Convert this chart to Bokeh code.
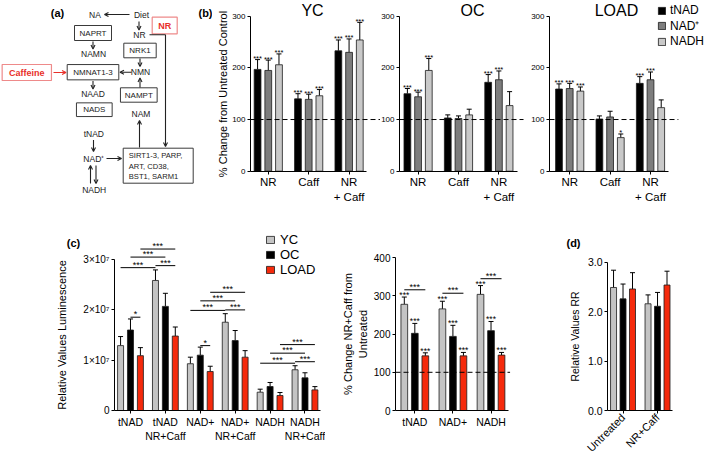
import math
from bokeh.plotting import figure
from bokeh.models import (Range1d, FixedTicker, Label, Legend, LegendItem, Whisker,
                          ColumnDataSource, Arrow, OpenHead, TeeHead)
from bokeh.layouts import row, column
from bokeh.core.properties import value
from bokeh.embed import file_html
from bokeh.resources import INLINE

FONT = "Liberation Sans"

# ---------------- data ----------------
# panel (b): % change from untreated control
b_groups = ["NR", "Caff", "NR\n+ Caff"]
b_series = ["tNAD", "NAD⁺", "NADH"]
b_ticks = [0, 100, 200, 300]
control_pct = 100

yc_tnad = [197, 140, 233]
yc_tnad_err = [19, 10, 21]
yc_nad = [195, 139, 230]
yc_nad_err = [20, 10, 26]
yc_nadh = [206, 146, 254]
yc_nadh_err = [21, 12, 34]
yc_stars = [["***", "***", "***"], ["***", "***", "***"], ["***", "***", "***"]]

oc_tnad = [150, 103, 172]
oc_tnad_err = [10, 6, 15]
oc_nad = [144, 102, 177]
oc_nad_err = [9, 5, 17]
oc_nadh = [195, 109, 127]
oc_nadh_err = [23, 11, 27]
oc_stars = [["***", "", "***"], ["***", "", "***"], ["***", "", ""]]

load_tnad = [159, 101, 170]
load_tnad_err = [10, 6, 13]
load_nad = [160, 105, 177]
load_nad_err = [10, 11, 15]
load_nadh = [155, 65, 123]
load_nadh_err = [8, 7, 15]
load_stars = [["***", "", "***"], ["***", "", "***"], ["***", "*", ""]]

# panel (c) left: relative luminescence
c_groups = ["tNAD", "tNAD\nNR+Caff", "NAD+", "NAD+\nNR+Caff", "NADH", "NADH\nNR+Caff"]
c_series = ["YC", "OC", "LOAD"]
c_ticks = [0, 1e7, 2e7, 3e7]
c_tick_labels = ["0", "1×10⁷", "2×10⁷", "3×10⁷"]
c_yc = [1.29e7, 2.585e7, 0.93e7, 1.755e7, 0.364e7, 0.81e7]
c_yc_err = [0.18e7, 0.21e7, 0.13e7, 0.17e7, 0.06e7, 0.08e7]
c_oc = [1.60e7, 2.07e7, 1.10e7, 1.39e7, 0.477e7, 0.65e7]
c_oc_err = [0.22e7, 0.26e7, 0.16e7, 0.20e7, 0.08e7, 0.10e7]
c_load = [1.09e7, 1.48e7, 0.775e7, 1.06e7, 0.298e7, 0.41e7]
c_load_err = [0.16e7, 0.18e7, 0.105e7, 0.13e7, 0.06e7, 0.065e7]
# significance brackets (group, series) -> (group, series) at a height
br_g0 = [0, 0, 1, 0, 0, 2, 2, 3, 2, 2, 4, 5, 4, 4]
br_s0 = [1, 0, 0, 1, 2, 1, 0, 0, 1, 2, 0, 0, 1, 2]
br_g1 = [0, 1, 1, 1, 1, 2, 3, 3, 3, 3, 5, 5, 5, 5]
br_s1 = [2, 0, 2, 1, 2, 2, 0, 2, 1, 2, 0, 2, 1, 2]
br_y = [1.855e7, 2.84e7, 2.88e7, 3.05e7, 3.21e7,
        1.29e7, 1.99e7, 2.0e7, 2.18e7, 2.35e7,
        0.94e7, 0.97e7, 1.14e7, 1.31e7]
br_lab = ["*", "***", "***", "***", "***",
          "*", "***", "***", "***", "***",
          "***", "***", "***", "***"]

# panel (c) right: % change NR+Caff from untreated
cr_groups = ["tNAD", "NAD+", "NADH"]
cr_ticks = [0, 100, 200, 300, 400]
cr_yc = [278, 266, 304]
cr_yc_err = [19, 20, 23]
cr_oc = [202, 194, 209]
cr_oc_err = [26, 29, 24]
cr_load = [143, 143, 145]
cr_load_err = [8, 9, 7]
cr_stars = [["***", "***", "***"], ["***", "***", "***"], ["***", "***", "***"]]
cr_br_y = [316, 307, 345]
cr_br_lab = ["***", "***", "***"]

# panel (d): relative values RR
d_groups = ["Untreated", "NR+Caff"]
d_ticks = [0, 1, 2, 3]
d_tick_labels = ["0.0", "1.0", "2.0", "3.0"]
d_yc = [2.49, 2.16]
d_yc_err = [0.35, 0.18]
d_oc = [2.26, 2.11]
d_oc_err = [0.30, 0.28]
d_load = [2.46, 2.54]
d_load_err = [0.33, 0.28]

b_colors = ["#000000", "#7d7d7d", "#c9c9c9"]
c_colors = ["#c4c4c4", "#000000", "#f52a0c"]
RED = "#e8302a"


# ---------------- helpers ----------------
def xpos(g, s, off):
    return g + 0.5 + (s - 1) * off


def canvas_fig(w, h, axis_px, axis_val, ppx, zero_py, ppy):
    """Figure whose frame fills the whole canvas; axes are drawn at fixed locations."""
    xr = (axis_val - axis_px / ppx, axis_val + (w - axis_px) / ppx)
    yr = (-(h - zero_py) / ppy, zero_py / ppy)
    p = figure(width=w, height=h, x_range=Range1d(*xr), y_range=Range1d(*yr),
               output_backend="svg", toolbar_location=None, title=None,
               min_border_left=0, min_border_right=0,
               min_border_top=0, min_border_bottom=0)
    p.grid.visible = False
    p.outline_line_color = None
    p.background_fill_color = "white"
    p.border_fill_color = "white"
    p.xaxis[0].fixed_location = 0
    p.yaxis[0].fixed_location = axis_val
    return p


def style_axes(p, xticks, xlabels, xb, yticks, ylabels, yb, cat_fs, tick_fs,
               ylab, ylab_fs, ylab_so, x_orient=None):
    xa, ya = p.xaxis[0], p.yaxis[0]
    xa.ticker = FixedTicker(ticks=list(xticks))
    xa.major_label_overrides = {t: l for t, l in zip(xticks, xlabels)}
    xa.bounds = xb
    ya.ticker = FixedTicker(ticks=list(yticks))
    if ylabels is not None:
        ya.major_label_overrides = {t: l for t, l in zip(yticks, ylabels)}
    ya.bounds = yb
    for a in (xa, ya):
        a.axis_line_color = "black"
        a.axis_line_width = 1
        a.major_tick_line_color = "black"
        a.major_tick_line_width = 1
        a.major_tick_out = 3
        a.major_tick_in = 0
        a.minor_tick_line_color = None
        a.major_label_text_font = FONT
        a.major_label_text_color = "black"
        a.major_label_standoff = 2
    xa.major_label_text_font_size = cat_fs
    ya.major_label_text_font_size = tick_fs
    ya.axis_label = ylab
    ya.axis_label_text_font = FONT
    ya.axis_label_text_font_size = ylab_fs
    ya.axis_label_text_font_style = "normal"
    ya.axis_label_text_color = "black"
    ya.axis_label_standoff = ylab_so
    if x_orient is not None:
        xa.major_label_orientation = x_orient


def add_bars(p, s, vals, errs, color, off, w, stars, star_fs, star_dy):
    xs = [xpos(g, s, off) for g in range(len(vals))]
    ups = [v + e for v, e in zip(vals, errs)]
    if stars is None:
        stars = [""] * len(vals)
    src = ColumnDataSource(dict(x=xs, top=vals, up=ups, star=stars))
    r = p.vbar(x="x", top="top", bottom=0, width=w, source=src,
               fill_color=color, line_color="#1c1c1c", line_width=0.8)
    p.add_layout(Whisker(source=src, base="x", lower="top", upper="up",
                         dimension="height", line_color="black", line_width=1,
                         upper_head=TeeHead(size=5, line_color="black", line_width=1),
                         lower_head=None))
    p.text(x="x", y="up", text="star", source=src, text_align="center",
           text_baseline="middle", y_offset=star_dy, text_font=value(FONT),
           text_font_size=star_fs, text_color="black")
    return r


def txt(p, x, y, t, fs="11px", style="normal", color="black", align="center"):
    p.add_layout(Label(x=x, y=y, x_units="screen", y_units="screen", text=t,
                       text_align=align, text_baseline="middle",
                       text_font=FONT, text_font_size=fs, text_font_style=style,
                       text_color=color))


TOP_H = 205
BOT_H = 251

# ---------------- panel (a) diagram ----------------
pa = figure(width=212, height=TOP_H, x_range=Range1d(0, 212), y_range=Range1d(TOP_H, 0),
            output_backend="svg", toolbar_location=None, title=None,
            min_border_left=0, min_border_right=0, min_border_top=0, min_border_bottom=0)
pa.axis.visible = False
pa.grid.visible = False
pa.outline_line_color = None

box_x = [92.5, 92.5, 139.5, 93.8, 138.3, 157.7]
box_y = [32.5, 71.7, 50.0, 109.2, 94.5, 165.2]
box_w = [37, 51.6, 32.4, 35.7, 36.7, 70]
box_h = [15, 15.3, 14.6, 13.7, 14.4, 35]
box_t = ["NAPRT", "NMNAT1-3", "NRK1", "NADS", "NAMPT", ""]
pa.rect(x=box_x, y=box_y, width=box_w, height=box_h, fill_color="white",
        line_color="#3a3a3a", line_width=1)
pa.text(x=box_x, y=box_y, text=box_t, text_align="center", text_baseline="middle",
        text_font=value(FONT), text_font_size="8px", text_color="#222222")
pa.rect(x=[26.3, 164.2], y=[72, 25], width=[49.3, 25], height=[16, 16.6],
        fill_color="white", line_color="#ee8a8a", line_width=1.2)
pa.text(x=[26.3, 164.2], y=[72, 25], text=["Caffeine", "NR"], text_align="center",
        text_baseline="middle", text_font=value(FONT), text_font_size="9px",
        text_font_style="bold", text_color=RED)
free_x = [94.5, 141, 139, 93, 140, 92.5, 140.5, 93.3, 93.3, 93.7]
free_y = [14, 14, 34.5, 53.3, 71.7, 93.7, 113.8, 133.3, 158, 189]
free_t = ["NA", "Diet", "NR", "NAMN", "NMN", "NAAD", "NAM", "tNAD", "NAD⁺", "NADH"]
pa.text(x=free_x, y=free_y, text=free_t, text_align="center", text_baseline="middle",
        text_font=value(FONT), text_font_size="8.5px", text_color="#222222")
pa.text(x=[128.3, 128.3, 128.3], y=[155.3, 165.7, 175.8],
        text=["SIRT1-3, PARP,", "ART, CD38,", "BST1, SARM1"], text_align="left",
        text_baseline="middle", text_font=value(FONT), text_font_size="7.6px",
        text_color="#222222")
pa.text(x=[57, 205], y=[12, 12], text=["(a)", "(b)"], text_align="center",
        text_baseline="middle", text_font=value(FONT), text_font_size="11px",
        text_font_style="bold", text_color="black")
arrows = [
    (129, 14, 104, 14, "#222222"),
    (138.5, 21, 138.5, 29.5, "#222222"),
    (92.5, 41, 92.5, 48.5, "#222222"),
    (92.5, 80.5, 92.5, 88.5, "#222222"),
    (93, 139.5, 93, 151, "#222222"),
    (106, 158, 121, 158, "#222222"),
    (90, 183, 90, 165, "#222222"),
    (95.5, 165, 95.5, 183, "#222222"),
    (53, 72, 65.5, 72, RED),
    (131, 71.7, 119.5, 71.7, "#222222"),
    (139.5, 58, 139.5, 66, "#222222"),
    (139.5, 87, 139.5, 77.5, "#222222"),
    (139, 147, 139, 120, "#222222"),
    (165, 34.3, 165, 146, "#222222"),
]
for x0, y0, x1, y1, col in arrows:
    pa.add_layout(Arrow(x_start=x0, y_start=y0, x_end=x1, y_end=y1, line_color=col,
                        line_width=1.1, end=OpenHead(size=4, line_color=col, line_width=1.1)))
pa.line(x=[149, 165], y=[34.3, 34.3], line_color="#222222", line_width=1.1)

# ---------------- panel (b) ----------------
B_PPX, B_PPY, B_ZERO = 40.4, 0.5167, 170.7
B_OFF, B_W = 0.265, 0.168
b_x = [0.5, 1.5, 2.5]


def panel_b(w, axis_px, axis_val, xb_end, dash_end, vals, stars, title, title_x):
    p = canvas_fig(w, TOP_H, axis_px, axis_val, B_PPX, B_ZERO, B_PPY)
    rs = []
    for s in range(3):
        v, e = vals[s]
        rs.append(add_bars(p, s, v, e, b_colors[s], B_OFF, B_W, stars[s], "7.5px", -1))
    p.segment(x0=[axis_val], x1=[dash_end], y0=[control_pct], y1=[control_pct],
              line_color="black", line_width=1, line_dash="5 3")
    style_axes(p, b_x, b_groups, (axis_val, xb_end), b_ticks, None, (0, 300),
               "11.5px", "8px", "", "11px", 0)
    txt(p, title_x, TOP_H - 10, title, fs="16px")
    return p, rs


pyc, _ = panel_b(168, 38, 0.06, 2.92, 3.33,
                 [(yc_tnad, yc_tnad_err), (yc_nad, yc_nad_err), (yc_nadh, yc_nadh_err)],
                 yc_stars, "YC", 100)
pyc.yaxis[0].axis_label = "% Change from Untreated Control"

poc, _ = panel_b(150, 19, 0.04, 2.96, 3.11,
                 [(oc_tnad, oc_tnad_err), (oc_nad, oc_nad_err), (oc_nadh, oc_nadh_err)],
                 oc_stars, "OC", 92)
pload, load_rs = panel_b(179, 19, 0.0, 2.95, 3.19,
                         [(load_tnad, load_tnad_err), (load_nad, load_nad_err),
                          (load_nadh, load_nadh_err)],
                         load_stars, "LOAD", 86)
leg_b = Legend(items=[LegendItem(label=b_series[i], renderers=[load_rs[i]]) for i in range(3)],
               location=(127, 157), orientation="vertical",
               label_text_font=FONT, label_text_font_size="12px", label_text_color="black",
               glyph_width=9, glyph_height=9, label_height=9, label_standoff=4,
               spacing=0, padding=0, margin=0, border_line_color=None,
               background_fill_alpha=0)
pload.add_layout(leg_b)

# ---------------- panel (c) left ----------------
C_OFF, C_W = 0.284, 0.172
c_x = [g + 0.5 for g in range(len(c_groups))]
pcl = canvas_fig(325, BOT_H, 114, 0.042, 34.9, 205, 50.3e-7)
c_rs = []
for s, (v, e) in enumerate([(c_yc, c_yc_err), (c_oc, c_oc_err), (c_load, c_load_err)]):
    c_rs.append(add_bars(pcl, s, v, e, c_colors[s], C_OFF, C_W, None, "9px", -1))
bx0 = [xpos(g, s, C_OFF) for g, s in zip(br_g0, br_s0)]
bx1 = [xpos(g, s, C_OFF) for g, s in zip(br_g1, br_s1)]
pcl.segment(x0=bx0, x1=bx1, y0=br_y, y1=br_y, line_color="black", line_width=1)
pcl.text(x=[(a + b) / 2 for a, b in zip(bx0, bx1)], y=br_y, text=br_lab,
         text_align="center", text_baseline="middle", y_offset=-3,
         text_font=value(FONT), text_font_size="9px", text_color="black")
style_axes(pcl, c_x, c_groups, (0.042, 5.94), c_ticks, c_tick_labels, (0, 3e7),
           "10.5px", "10px", "Relative Values Luminescence", "11px", 12)
leg_c = Legend(items=[LegendItem(label=c_series[i], renderers=[c_rs[i]]) for i in range(3)],
               location=(265, 179), orientation="vertical",
               label_text_font=FONT, label_text_font_size="13px", label_text_color="black",
               glyph_width=10, glyph_height=9, label_height=9, label_standoff=5,
               spacing=-6, padding=0, margin=0, border_line_color=None,
               background_fill_alpha=0)
pcl.add_layout(leg_c)
txt(pcl, 73, BOT_H - 37, "(c)", fs="11px", style="bold")

# ---------------- panel (c) right ----------------
CR_OFF, CR_W = 0.276, 0.176
cr_x = [g + 0.5 for g in range(len(cr_groups))]
pcr = canvas_fig(215, BOT_H, 70, -0.007, 38.1, 205, 0.382)
for s, (v, e) in enumerate([(cr_yc, cr_yc_err), (cr_oc, cr_oc_err), (cr_load, cr_load_err)]):
    add_bars(pcr, s, v, e, c_colors[s], CR_OFF, CR_W, cr_stars[s], "8.5px", -2)
pcr.segment(x0=[-0.007], x1=[3.0], y0=[control_pct], y1=[control_pct],
            line_color="black", line_width=1, line_dash="5 3")
crx0 = [xpos(g, 0, CR_OFF) for g in range(3)]
crx1 = [xpos(g, 2, CR_OFF) for g in range(3)]
pcr.segment(x0=crx0, x1=crx1, y0=cr_br_y, y1=cr_br_y, line_color="black", line_width=1)
pcr.text(x=[(a + b) / 2 for a, b in zip(crx0, crx1)], y=cr_br_y, text=cr_br_lab,
         text_align="center", text_baseline="middle", y_offset=-3,
         text_font=value(FONT), text_font_size="9px", text_color="black")
style_axes(pcr, cr_x, cr_groups, (-0.007, 2.96), cr_ticks, None, (0, 400),
           "10.5px", "10px", "% Change NR+Caff from\nUntreated", "11px", 2)

# ---------------- panel (d) ----------------
D_OFF, D_W = 0.275, 0.174
d_x = [g + 0.5 for g in range(len(d_groups))]
pd_ = canvas_fig(169, BOT_H, 67, 0.05, 34.5, 205, 49.4)
for s, (v, e) in enumerate([(d_yc, d_yc_err), (d_oc, d_oc_err), (d_load, d_load_err)]):
    add_bars(pd_, s, v, e, c_colors[s], D_OFF, D_W, None, "9px", -1)
style_axes(pd_, d_x, d_groups, (0.05, 1.93), d_ticks, d_tick_labels, (0, 3),
           "11px", "10.5px", "Relative Values RR", "10.5px", 4, x_orient=math.pi / 4)
txt(pd_, 33, BOT_H - 37, "(d)", fs="11px", style="bold")

layout = column(row(pa, pyc, poc, pload), row(pcl, pcr, pd_))
open("out.html", "w").write(file_html(layout, INLINE))
